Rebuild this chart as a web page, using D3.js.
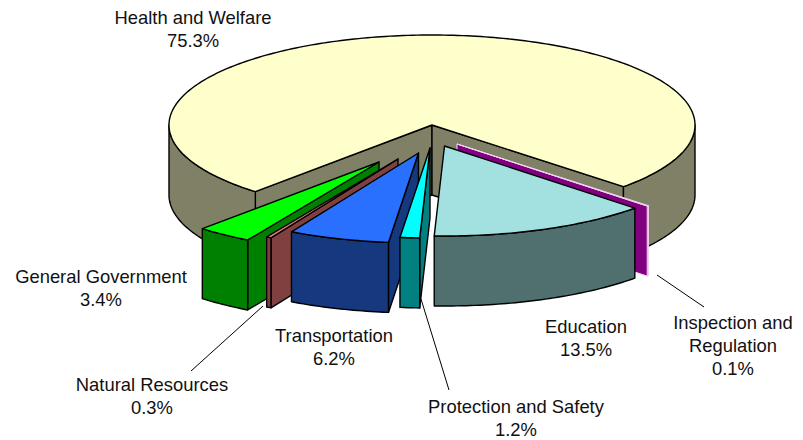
<!DOCTYPE html>
<html>
<head>
<meta charset="utf-8">
<script src="https://cdn.jsdelivr.net/npm/d3@7"></script>
<style>
html,body{margin:0;padding:0;background:#fff}
svg{display:block}
text{font-family:"Liberation Sans",Arial,sans-serif;font-size:18.4px;fill:#111}
</style>
</head>
<body>
<svg id="chart" width="803" height="440"></svg>
<script>
// ---- data ----
const categories = ["Health and Welfare","Inspection and Regulation","Education","Protection and Safety","Transportation","Natural Resources","General Government"];
const shares = [75.3,0.1,13.5,1.2,6.2,0.3,3.4];
const shareLabels = ["75.3%","0.1%","13.5%","1.2%","6.2%","0.3%","3.4%"];

// ---- layout & style ----
const W = 803, H = 440;
const cx = 432, cy = 125, rx = 263, ry = 90, depth = 70;
const startDeg = 222.2;
const explode = [[0,0],[25,19],[12.5,21],[-2,23],[-13.5,28],[-34,34],[-53,37]];
const topColors  = ["#FFFFCC","#F4C6F4","#A3E0E0","#00FFFF","#2970FF","#E58080","#00FF00"];
const sideColors = ["#808066","#800080","#507070","#008080","#16387F","#804040","#008000"];
const strokeColors = ["#000","#EFD4EF","#000","#000","#000","#000","#000"];
const strokeWidths = [1.4,1,1.4,1.4,1.4,1.4,1.4];
const drawOrder = [0,6,5,4,3,1,2];
const labelLines = [["Health and Welfare"],["Inspection and","Regulation"],["Education"],["Protection and Safety"],["Transportation"],["Natural Resources"],["General Government"]];
const labelPos = [[193,24],[733,329],[586,333],[516,413],[334,342],[152,391],[101,283]];
const lineHeight = 23;
const leaders = [[[657,275],[704,307]],[[421,299],[449,390]],[[263,306],[191,371]]];

// ---- scales ----
const xS = d3.scaleLinear().domain([-1,1]).range([cx-rx,cx+rx]);
const yS = d3.scaleLinear().domain([-1,1]).range([cy-ry,cy+ry]);
const deg = Math.PI/180;
const pie = d3.pie().sort(null).value(d=>d).startAngle(startDeg*deg).endAngle((startDeg+360)*deg);
const arcs = pie(shares);
const svg = d3.select("#chart");
const line = d3.line().x(d=>d[0]).y(d=>d[1]);
const closed = pts => line(pts)+"Z";

function rim(a,e,dy=0){ return [xS(Math.sin(a))+e[0], yS(-Math.cos(a))+e[1]+dy]; }
function arcPts(a0,a1,e,dy=0){
  const n = Math.max(2,Math.ceil((a1-a0)/(1*deg)));
  return d3.range(n+1).map(i=>rim(a0+(a1-a0)*i/n,e,dy));
}
// front half of the rim: d3 angles from 90 to 270 degrees (and again one turn on)
function frontRanges(a0,a1){
  const out=[];
  for(const k of [0,1]){
    const lo=Math.max(a0,(90+360*k)*deg), hi=Math.min(a1,(270+360*k)*deg);
    if(hi>lo) out.push([lo,hi]);
  }
  return out;
}
function slicePieces(i){
  const d=arcs[i], e=explode[i], a0=d.startAngle, a1=d.endAngle;
  const apex=[cx+e[0],cy+e[1]], apexB=[apex[0],apex[1]+depth];
  const pieces=[];
  const addCut=a=>{
    const p=rim(a,e), q=rim(a,e,depth);
    pieces.push({d:closed([apex,p,q,apexB]),fill:sideColors[i]});
  };
  // a cut face shows when its outward normal points down the page
  if(-Math.cos(a0-Math.PI/2)>0) addCut(a0);
  if(-Math.cos(a1+Math.PI/2)>0) addCut(a1);
  for(const [lo,hi] of frontRanges(a0,a1)){
    const tp=arcPts(lo,hi,e), bt=arcPts(lo,hi,e,depth).reverse();
    pieces.push({d:closed(tp.concat(bt)),fill:sideColors[i]});
  }
  pieces.push({d:closed([apex].concat(arcPts(a0,a1,e))),fill:topColors[i]});
  return pieces;
}

const g = svg.selectAll("g.slice").data(drawOrder).join("g").attr("class","slice");
g.selectAll("path").data(i=>slicePieces(i).map(p=>({...p,i}))).join("path")
  .attr("d",p=>p.d).attr("fill",p=>p.fill)
  .attr("stroke",p=>strokeColors[p.i]).attr("stroke-width",p=>strokeWidths[p.i]).attr("stroke-linejoin","round");

// leader lines
svg.selectAll("line.leader").data(leaders).join("line").attr("class","leader")
  .attr("x1",d=>d[0][0]).attr("y1",d=>d[0][1]).attr("x2",d=>d[1][0]).attr("y2",d=>d[1][1])
  .attr("stroke","#000").attr("stroke-width",1);

// labels
const t = svg.selectAll("text.lab").data(categories).join("text").attr("class","lab").attr("text-anchor","middle");
t.selectAll("tspan").data((c,i)=>labelLines[i].concat(shareLabels[i]).map((s,j)=>({s,j,i}))).join("tspan")
  .attr("x",d=>labelPos[d.i][0]).attr("y",d=>labelPos[d.i][1]+d.j*lineHeight).text(d=>d.s);
</script>
</body>
</html>
